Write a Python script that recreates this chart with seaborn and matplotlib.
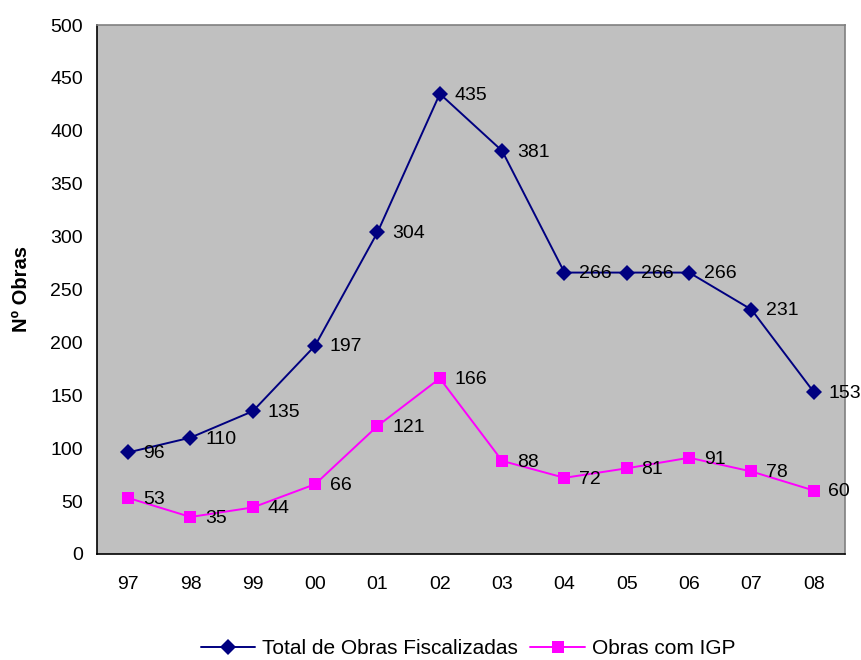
import matplotlib
matplotlib.use("Agg")
import matplotlib.pyplot as plt
from matplotlib.ticker import FixedLocator
import seaborn as sns
import pandas as pd

anos = ["97", "98", "99", "00", "01", "02", "03", "04", "05", "06", "07", "08"]
total_fiscalizadas = [96, 110, 135, 197, 304, 435, 381, 266, 266, 266, 231, 153]
obras_igp = [53, 35, 44, 66, 121, 166, 88, 72, 81, 91, 78, 60]
serie_total = "Total de Obras Fiscalizadas"
serie_igp = "Obras com IGP"

sns.set_theme(style="white", rc={"text.color": "black", "axes.labelcolor": "black",
                                 "xtick.color": "black", "ytick.color": "black"})
plt.rcParams["font.family"] = ["Liberation Sans", "DejaVu Sans"]

df = pd.DataFrame({
    "ano": anos * 2,
    "obras": total_fiscalizadas + obras_igp,
    "serie": [serie_total] * len(anos) + [serie_igp] * len(anos),
})

fig = plt.figure(figsize=(8.61, 6.6), dpi=100)
ax = fig.add_axes([97 / 861, 1 - 554 / 660, (845 - 97) / 861, (554 - 25) / 660])
ax.set_facecolor("#C0C0C0")

sns.lineplot(
    data=df, x="ano", y="obras", hue="serie", style="serie",
    palette={serie_total: "#000080", serie_igp: "#FF00FF"},
    markers={serie_total: "D", serie_igp: "s"},
    dashes=False, sort=False, linewidth=1.4, markersize=8,
    markeredgewidth=0, ax=ax, legend=True,
)

# value labels beside each point
for serie, vals in [(serie_total, total_fiscalizadas), (serie_igp, obras_igp)]:
    for i, v in enumerate(vals):
        ax.annotate(str(v), (i, v), xytext=(10.5, -1), textcoords="offset points",
                    ha="left", va="center", fontsize=14, color="black")

ax.set_xlim(-0.5, len(anos) - 0.5)
ax.set_ylim(0, 500)
ax.set_yticks(range(0, 501, 50))
ax.xaxis.set_minor_locator(FixedLocator([i - 0.5 for i in range(len(anos) + 1)]))
ax.tick_params(axis="x", which="major", length=0, pad=16, labelsize=14)
ax.tick_params(axis="x", which="minor", length=6, width=1, color="black", direction="out")
ax.tick_params(axis="y", length=6, width=1, color="black", direction="out", labelsize=14, pad=4)
ax.set_xlabel("")
ax.set_ylabel("Nº Obras", fontsize=14.5, fontweight="bold", labelpad=14)

for side in ["left", "bottom"]:
    ax.spines[side].set_color("black")
    ax.spines[side].set_linewidth(1.2)
for side in ["top", "right"]:
    ax.spines[side].set_color("#808080")
    ax.spines[side].set_linewidth(1.2)

handles, labels = ax.get_legend_handles_labels()
ax.legend(handles, labels, loc="center", bbox_to_anchor=(468 / 861, 1 - 649 / 660),
          bbox_transform=fig.transFigure, ncol=2, frameon=False, fontsize=15,
          handlelength=2.6, columnspacing=0.6, handletextpad=0.35)

fig.savefig("out.png", dpi=100)
